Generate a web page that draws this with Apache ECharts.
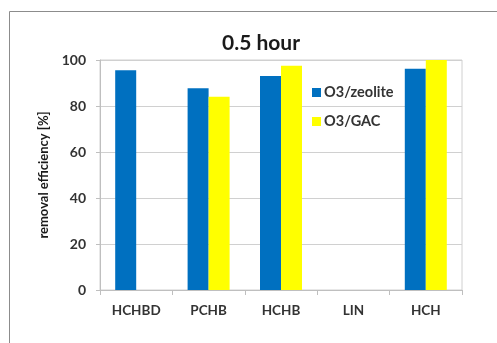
<!DOCTYPE html>
<html><head><meta charset="utf-8">
<script src="https://cdn.jsdelivr.net/npm/echarts@6/dist/echarts.min.js"></script>
<style>html,body{margin:0;padding:0;background:#fff}#c{width:497px;height:343px}</style>
</head><body><div id="c"></div>
<script>
const categories = ['HCHBD', 'PCHB', 'HCHB', 'LIN', 'HCH'];
const zeolite = [95.5, 87.7, 93.0, null, 96.2];
const gac = [null, 84.0, 97.5, null, 100];
const seriesNames = ['O3/zeolite', 'O3/GAC'];
const titleText = '0.5 hour';
const yName = 'removal efficiency [%]';

const font = 'Lato, "Open Sans", sans-serif';
const chart = echarts.init(document.getElementById('c'), null, {renderer: 'canvas'});
chart.setOption({
  animation: false,
  backgroundColor: '#fff',
  graphic: [{
    type: 'polyline', silent: true,
    shape: {points: [[9.5, 343], [9.5, 11.5], [497, 11.5]]},
    style: {stroke: '#8c8c8c', lineWidth: 1, fill: null}
  }],
  title: {
    text: titleText, left: 256, top: 28, textAlign: 'center',
    textStyle: {fontFamily: font, fontWeight: 'bold', fontSize: 21, color: '#1a1a1a'}
  },
  legend: {
    orient: 'vertical', left: 307, top: 80, itemWidth: 9, itemHeight: 9, itemGap: 14,
    icon: 'rect',
    textStyle: {fontFamily: font, fontWeight: 'bold', fontSize: 14.5, color: '#333', padding: [0, 0, 0, -2]},
    data: seriesNames
  },
  grid: {left: 100, top: 60, right: 35, bottom: 53, show: true, borderColor: '#d0d0d0', borderWidth: 1},
  xAxis: {
    type: 'category', data: categories,
    axisLine: {lineStyle: {color: '#bfbfbf'}},
    axisTick: {show: true, length: 5, lineStyle: {color: '#bfbfbf'}},
    axisLabel: {fontFamily: font, fontWeight: 'bold', fontSize: 13.5, color: '#333', margin: 14}
  },
  yAxis: {
    type: 'value', min: 0, max: 100, interval: 20,
    name: yName, nameLocation: 'middle', nameGap: 49,
    nameTextStyle: {fontFamily: font, fontWeight: 'bold', fontSize: 13, color: '#1a1a1a'},
    axisLine: {show: true, lineStyle: {color: '#bfbfbf'}},
    axisTick: {show: true, length: 4, lineStyle: {color: '#bfbfbf'}},
    splitLine: {lineStyle: {color: '#d0d0d0'}},
    axisLabel: {fontFamily: font, fontWeight: 'bold', fontSize: 14, color: '#333', margin: 14}
  },
  series: [
    {name: seriesNames[0], type: 'bar', data: zeolite, barWidth: 21, barGap: '0%', itemStyle: {color: '#0070c0'}},
    {name: seriesNames[1], type: 'bar', data: gac, barWidth: 21, barGap: '0%', itemStyle: {color: '#ffff00'}}
  ]
});
</script></body></html>
